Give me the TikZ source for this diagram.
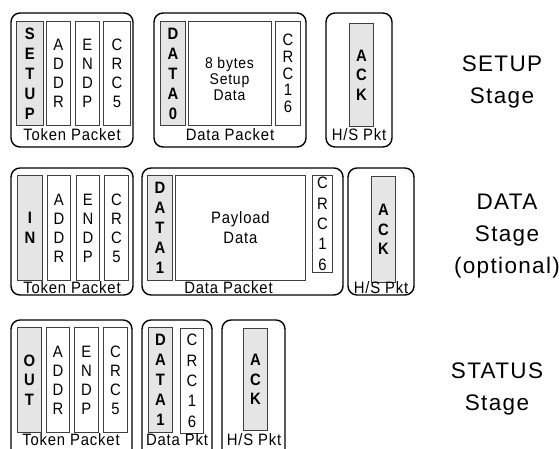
\documentclass[tikz,border=0pt]{standalone}
\usepackage{fontspec}
\newfontfamily\hv[FakeStretch=0.9,LetterSpace=5]{Liberation Sans}
\newfontfamily\hvs[LetterSpace=6]{Liberation Sans}
\tikzset{
  pkt/.style={draw=black, line width=1.4pt, rounded corners=9pt},
  fld/.style={draw=black!75, line width=0.8pt, inner sep=0pt, anchor=north west,
    align=center, font=\hv\fontsize{16.5}{#1}\selectfont},
  fld/.default=19,
  gfld/.style={fld=#1, fill=black!10, font=\hv\bfseries\fontsize{16.5}{#1}\selectfont},
  gfld/.default=19.5,
  lbl/.style={inner sep=0pt, font=\hv\fontsize{16.5}{19}\selectfont},
  stage/.style={inner sep=0pt, font=\hvs\fontsize{22.5}{32}\selectfont, align=center}
}
\newcommand\fieldbox[7]{\node[#6, minimum width=#4-#2, minimum height=#5-#3] (#1) at (#2,#3) {#7};}
\begin{document}
\begin{tikzpicture}[x=1pt,y=-1pt]
\useasboundingbox (0,0) rectangle (559,448);
% ---------------- SETUP stage
\draw[pkt] (11,13) rectangle (133,147);
\fieldbox{s1}{16}{21}{43}{125}{gfld=20}{S\\E\\T\\U\\P}
\fieldbox{a1}{46}{21}{70}{125}{fld}{A\\D\\D\\R}
\fieldbox{e1}{75}{21}{99}{125}{fld}{E\\N\\D\\P}
\fieldbox{c1}{103}{21}{130}{125}{fld}{C\\R\\C\\5}
\node[lbl] (tl1) at (72,135) {Token Packet};
\draw[pkt] (154,13) rectangle (306,147);
\fieldbox{d1}{160}{21}{185}{125}{gfld=20}{D\\A\\T\\A\\0}
\fieldbox{p1}{188}{21}{271}{125}{fld}{}
\node[lbl, align=center, font=\hv\fontsize{15.5}{16}\selectfont] (pt1) at (229.5,79) {8 bytes\\Setup\\Data};
\fieldbox{r1}{275}{21}{300}{125}{fld=16.7}{C\\R\\C\\1\\6}
\node[lbl] (dl1) at (230,135) {Data Packet};
\draw[pkt] (326,13) rectangle (392,147);
\fieldbox{k1}{349}{23}{373}{126}{gfld}{A\\C\\K}
\node[lbl] (hl1) at (359,135) {H/S Pkt};
\node[stage] (st1) at (502,82) {SETUP\\Stage};
% ---------------- DATA stage
\draw[pkt] (11,168) rectangle (133,295);
\fieldbox{s2}{17}{175}{42}{280}{gfld}{I\\N}
\fieldbox{a2}{47}{175}{70}{280}{fld}{A\\D\\D\\R}
\fieldbox{e2}{76}{175}{99}{280}{fld}{E\\N\\D\\P}
\fieldbox{c2}{104}{175}{128}{280}{fld}{C\\R\\C\\5}
\node[lbl] (tl2) at (72,288) {Token Packet};
\draw[pkt] (142,168) rectangle (343,295);
\fieldbox{d2}{147}{175}{172}{280}{gfld=20}{D\\A\\T\\A\\1}
\fieldbox{p2}{175}{175}{305}{280}{fld=20}{Payload\\Data}
\fieldbox{r2}{312}{175}{332}{272}{fld=20.3}{C\\R\\C\\1\\6}
\node[lbl] (dl2) at (228.5,288) {Data Packet};
\draw[pkt] (348,168) rectangle (414,295);
\fieldbox{k2}{371}{176}{395}{282}{gfld}{A\\C\\K}
\node[lbl] (hl2) at (381,288) {H/S Pkt};
\node[stage] (st2) at (507,236) {DATA\\Stage\\(optional)};
% ---------------- STATUS stage
\draw[pkt] (11,320) rectangle (132,458);
\fieldbox{s3}{17}{327}{41}{432}{gfld}{O\\U\\T}
\fieldbox{a3}{46}{327}{69}{432}{fld}{A\\D\\D\\R}
\fieldbox{e3}{74}{327}{98}{432}{fld}{E\\N\\D\\P}
\fieldbox{c3}{103}{327}{127}{432}{fld}{C\\R\\C\\5}
\node[lbl] (tl3) at (71,440) {Token Packet};
\draw[pkt] (142,320) rectangle (212,458);
\fieldbox{d3}{148}{327}{172}{432}{gfld=20}{D\\A\\T\\A\\1}
\fieldbox{r3}{180}{328}{203}{433}{fld=20.3}{C\\R\\C\\1\\6}
\node[lbl] (dl3) at (177,440) {Data Pkt};
\draw[pkt] (222,320) rectangle (285,458);
\fieldbox{k3}{243}{328}{267}{430}{gfld}{A\\C\\K}
\node[lbl] (hl3) at (254,440) {H/S Pkt};
\node[stage] (st3) at (497,389) {STATUS\\Stage};
\end{tikzpicture}
\end{document}
